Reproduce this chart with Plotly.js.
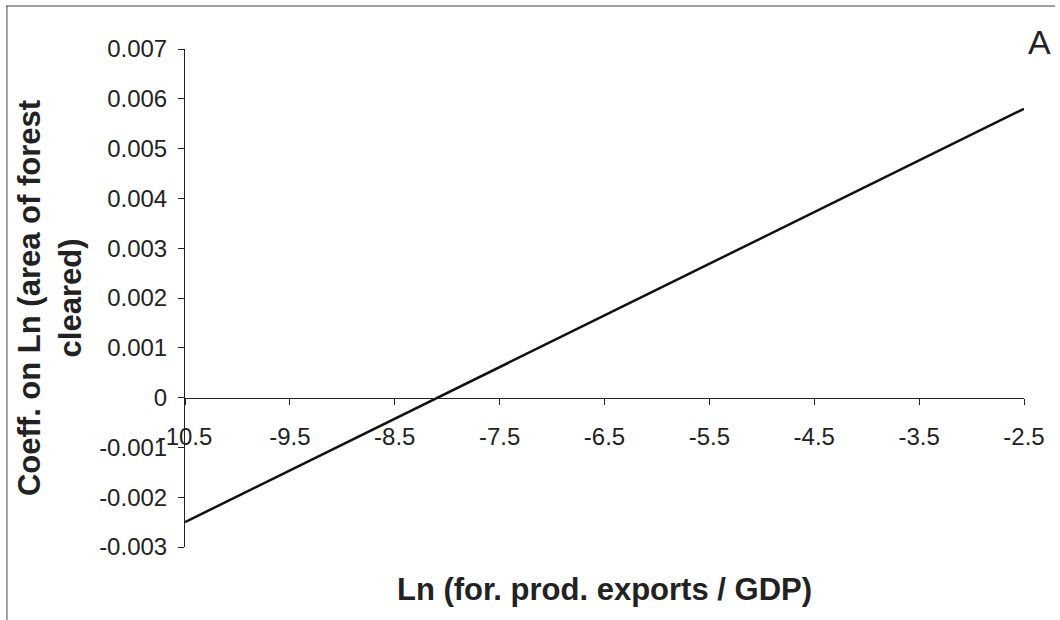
<!DOCTYPE html>
<html>
<head>
<meta charset="utf-8">
<script src="https://cdn.plot.ly/plotly-3.0.1.min.js"></script>
<style>html,body{margin:0;padding:0;background:#fff;}#chart{width:1060px;height:620px;}</style>
</head>
<body>
<div id="chart"></div>
<script>
// Data
var xVals = [-10.5, -2.5];
var yVals = [-0.0025, 0.0058];

var xTickVals = [-10.5, -9.5, -8.5, -7.5, -6.5, -5.5, -4.5, -3.5, -2.5];
var xTickText = ["-10.5", "-9.5", "-8.5", "-7.5", "-6.5", "-5.5", "-4.5", "-3.5", "-2.5"];
var yTickVals = [-0.003, -0.002, -0.001, 0, 0.001, 0.002, 0.003, 0.004, 0.005, 0.006, 0.007];
var yTickText = ["-0.003", "-0.002", "-0.001", "0", "0.001", "0.002", "0.003", "0.004", "0.005", "0.006", "0.007"];

var xTitle = "Ln (for. prod. exports / GDP)";
var yTitle = "Coeff. on Ln (area of forest<br>cleared)";
var panelLabel = "A";

var FONT = "Arial, 'Liberation Sans', sans-serif";

var trace = {
  x: xVals, y: yVals, type: "scatter", mode: "lines",
  line: {color: "#111", width: 2.5},
  showlegend: false, hoverinfo: "x+y"
};

var layout = {
  width: 1060, height: 620,
  margin: {l: 185, r: 36, t: 49, b: 73, pad: 0},
  paper_bgcolor: "#fff", plot_bgcolor: "#fff",
  font: {family: FONT, color: "#222"},
  showlegend: false,
  xaxis: {
    range: [-10.5, -2.5], anchor: "free", position: 0.3,
    tickvals: xTickVals, ticktext: xTickText,
    ticks: "outside", ticklen: 6, tickcolor: "#222", tickwidth: 1,
    showline: true, linecolor: "#222", linewidth: 1,
    showgrid: false, zeroline: false,
    ticklabelstandoff: 12,
    tickfont: {family: FONT, size: 24, color: "#222"},
    automargin: false,
    title: {text: "<b>" + xTitle + "</b>", font: {family: FONT, size: 31, color: "#222"}, standoff: 128}
  },
  yaxis: {
    range: [-0.003, 0.007],
    tickvals: yTickVals, ticktext: yTickText,
    ticks: "outside", ticklen: 6, tickcolor: "#222", tickwidth: 1,
    showline: true, linecolor: "#222", linewidth: 1,
    showgrid: false, zeroline: false,
    ticklabelstandoff: 6,
    tickfont: {family: FONT, size: 24, color: "#222"},
    automargin: false,
    title: {text: "<b>" + yTitle + "</b>", font: {family: FONT, size: 31, color: "#222"}, standoff: 8}
  },
  annotations: [{
    text: panelLabel, xref: "paper", yref: "paper", x: 1.0179, y: 1.014,
    xanchor: "center", yanchor: "middle", showarrow: false,
    font: {family: FONT, size: 34, color: "#222"}
  }],
  shapes: [
    {type: "line", xref: "paper", yref: "paper", x0: -0.2133, x1: 1.037, y0: 1.0863, y1: 1.0863, line: {color: "#444", width: 1}},
    {type: "line", xref: "paper", yref: "paper", x0: -0.2122, x1: -0.2122, y0: 1.0863, y1: -0.16, line: {color: "#444", width: 1}}
  ]
};

Plotly.newPlot("chart", [trace], layout, {displayModeBar: false, staticPlot: true});
</script>
</body>
</html>
